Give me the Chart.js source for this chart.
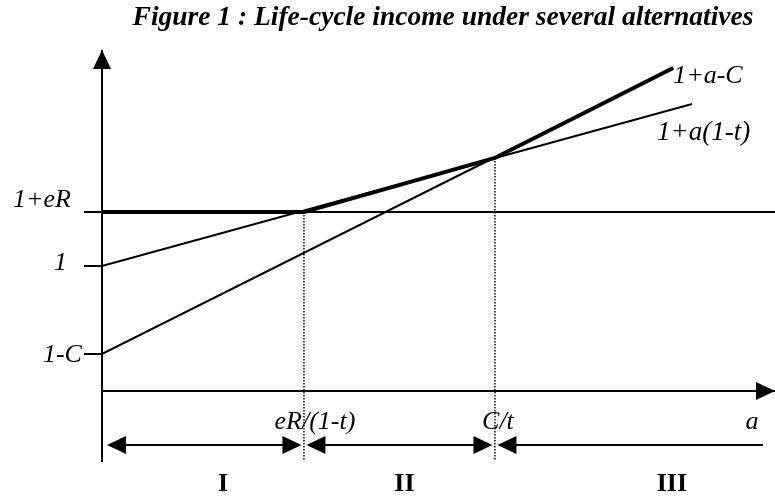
<!DOCTYPE html>
<html><head><meta charset="utf-8">
<script src="https://cdn.jsdelivr.net/npm/chart.js@4.4.0/dist/chart.umd.min.js"></script>
<style>html,body{margin:0;padding:0;background:#fff;}canvas{display:block}</style>
</head><body>
<canvas id="c" width="775" height="499" style="width:775px;height:499px"></canvas>
<script>
// ---- data (model units: a on the horizontal axis, income on the vertical axis)
const titleText = 'Figure 1 : Life-cycle income under several alternatives';
const levelLabels = ['1+eR', '1', '1-C'];
const levelValues = [1.245, 1.0, 0.6];
const thresholdLabels = ['eR/(1-t)', 'C/t'];
const thresholdValues = [0.459, 0.893];
const regionLabels = ['I', 'II', 'III'];
const regionBounds = [0, 0.459, 0.893, 1.502];
const taxLineA = [0, 1.341];
const taxLineY = [1.0, 1.736];
const costLineA = [0, 1.298];
const costLineY = [0.6, 1.9];
const envelopeA = [0, 0.459, 0.893, 1.298];
const envelopeY = [1.245, 1.245, 1.491, 1.9];
const lineEndLabels = ['1+a-C', '1+a(1-t)'];
const axisLabel = 'a';
const axisXLevel = 0.432;
const axisXEnd = 1.5295;
const axisYTop = 1.982;
const axisYBottom = 0.109;
const regionArrowLevel = 0.186;
const dottedBottom = 0.118;
const tickStart = -0.041;

const pts = (xs, ys) => xs.map((x, i) => ({x: x, y: ys[i]}));
const base = {showLine: true, pointRadius: 0, borderColor: '#000', backgroundColor: '#000', clip: false, tension: 0};

// lines that begin left of the plotting area are listed right-to-left so that every point is drawn
const datasets = [
  Object.assign({}, base, {data: [{x: axisXEnd, y: levelValues[0]}, {x: tickStart, y: levelValues[0]}], borderWidth: 2}),
  Object.assign({}, base, {data: pts(taxLineA, taxLineY).reverse().concat([{x: tickStart, y: levelValues[1]}]), borderWidth: 2}),
  Object.assign({}, base, {data: pts(costLineA, costLineY).reverse().concat([{x: tickStart, y: levelValues[2]}]), borderWidth: 2}),
  Object.assign({}, base, {data: pts(envelopeA, envelopeY).reverse(), borderWidth: 4}),
  Object.assign({}, base, {data: [{x: 0, y: axisYBottom}, {x: 0, y: axisYTop}], borderWidth: 2}),
  Object.assign({}, base, {data: [{x: axisXEnd, y: axisXLevel}, {x: 0, y: axisXLevel}], borderWidth: 2}),
  Object.assign({}, base, {data: [{x: thresholdValues[0], y: envelopeY[1]}, {x: thresholdValues[0], y: dottedBottom}], borderWidth: 1.5, borderDash: [1.5, 1.5]}),
  Object.assign({}, base, {data: [{x: thresholdValues[1], y: envelopeY[2]}, {x: thresholdValues[1], y: dottedBottom}], borderWidth: 1.5, borderDash: [1.5, 1.5]})
];

function head(ctx, x, y, dir) {
  const L = 19, W = 9;
  ctx.beginPath();
  if (dir === 'up') { ctx.moveTo(x, y); ctx.lineTo(x - W, y + L); ctx.lineTo(x + W, y + L); }
  if (dir === 'right') { ctx.moveTo(x, y); ctx.lineTo(x - L, y - W); ctx.lineTo(x - L, y + W); }
  if (dir === 'left') { ctx.moveTo(x, y); ctx.lineTo(x + L, y - W); ctx.lineTo(x + L, y + W); }
  ctx.closePath();
  ctx.fill();
}

const annot = {
  id: 'annot',
  afterDatasetsDraw(chart) {
    const ctx = chart.ctx, X = v => chart.scales.x.getPixelForValue(v), Y = v => chart.scales.y.getPixelForValue(v);
    ctx.save();
    ctx.fillStyle = '#000'; ctx.strokeStyle = '#000';
    head(ctx, X(0), Y(axisYTop), 'up');
    head(ctx, X(axisXEnd), Y(axisXLevel), 'right');
    const ry = Y(regionArrowLevel);
    ctx.lineWidth = 2;
    for (let i = 0; i < regionLabels.length; i++) {
      const g1 = i === 0 ? 5 : 2.5, g2 = 2.5;
      const x1 = X(regionBounds[i]) + g1;
      const last = i === regionLabels.length - 1;
      const x2 = last ? X(regionBounds[i + 1]) : X(regionBounds[i + 1]) - g2;
      ctx.beginPath(); ctx.moveTo(x1 + 5, ry); ctx.lineTo(last ? x2 : x2 - 5, ry); ctx.stroke();
      head(ctx, x1, ry, 'left');
      if (!last) head(ctx, x2, ry, 'right');
    }
    ctx.textBaseline = 'middle';
    ctx.font = 'italic 26px "Liberation Serif"';
    const lvlOff = [[-13, -12], [-17, -3], [-2, 1]];
    ctx.textAlign = 'right';
    levelLabels.forEach((t, i) => ctx.fillText(t, X(tickStart) + lvlOff[i][0], Y(levelValues[i]) + lvlOff[i][1]));
    ctx.textAlign = 'center';
    const thOff = [11, 3];
    const ty = Y(axisXLevel) + 31;
    thresholdLabels.forEach((t, i) => ctx.fillText(t, X(thresholdValues[i]) + thOff[i], ty));
    ctx.fillText(axisLabel, X(regionBounds[3]) - 11, ty);
    ctx.textAlign = 'left';
    ctx.fillText(lineEndLabels[0], X(costLineA[1]) + 0, Y(costLineY[1]) + 8);
    ctx.font = 'italic 27px "Liberation Serif"';
    ctx.fillText(lineEndLabels[1], X(taxLineA[1]) - 35, Y(taxLineY[1]) + 29);
    ctx.font = 'bold 26px "Liberation Serif"';
    ctx.textAlign = 'center';
    const rOff = [20, 5, 43];
    regionLabels.forEach((t, i) => {
      const lo = X(regionBounds[i]), hi = X(regionBounds[i + 1]);
      ctx.fillText(t, (lo + hi) / 2 + rOff[i], ry + 39);
    });
    ctx.restore();
  }
};

new Chart(document.getElementById('c'), {
  type: 'scatter',
  data: {datasets: datasets},
  options: {
    responsive: false,
    animation: false,
    events: [],
    layout: {padding: {left: 111, top: 0, right: 0, bottom: 0}},
    plugins: {
      legend: {display: false},
      tooltip: {enabled: false},
      title: {
        display: true, fullSize: false, align: 'center', text: titleText, color: '#000',
        font: {family: '"Liberation Serif"', size: 27.5, style: 'italic', weight: 'bold', lineHeight: 1.2},
        padding: {top: 1, bottom: 6}
      }
    },
    scales: {
      x: {type: 'linear', display: false, min: 0.02045, max: 1.5295},
      y: {type: 'linear', display: false, min: -0.0591, max: 2.0273}
    }
  },
  plugins: [annot]
});
</script>
</body></html>
